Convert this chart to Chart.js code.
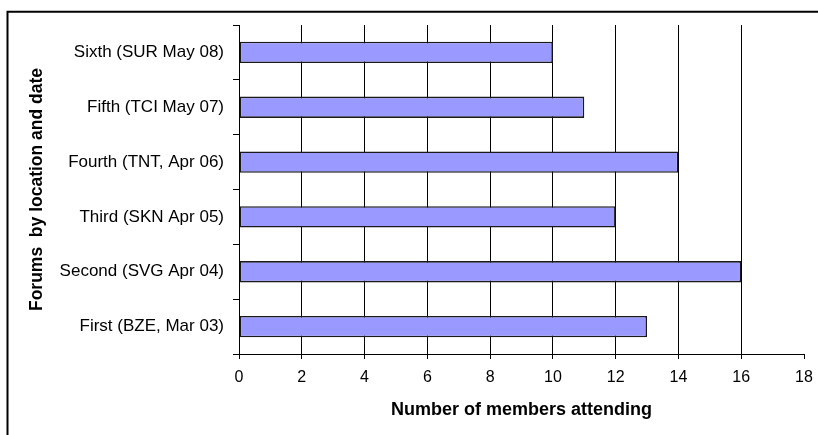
<!DOCTYPE html>
<html>
<head>
<meta charset="utf-8">
<script src="https://cdn.jsdelivr.net/npm/chart.js@4/dist/chart.umd.min.js"></script>
<style>
  html, body { margin: 0; padding: 0; background: #fff; }
  canvas { display: block; }
</style>
</head>
<body>
<canvas id="c" width="818" height="435"></canvas>
<script>
const categories = [
  'First (BZE, Mar 03)',
  'Second (SVG Apr 04)',
  'Third (SKN Apr 05)',
  'Fourth (TNT, Apr 06)',
  'Fifth (TCI May 07)',
  'Sixth (SUR May 08)'
];
const attendance = [13, 16, 12, 14, 11, 10];
const xMin = 0, xMax = 18, xStep = 2;
const xTitle = 'Number of members attending';
const yTitle = 'Forums  by location and date';

const FONT = '"Liberation Sans", Arial, sans-serif';

const frame = {
  id: 'frame',
  beforeDraw(chart) {
    const ctx = chart.ctx;
    ctx.save();
    ctx.fillStyle = '#fff';
    ctx.fillRect(0, 0, chart.width, chart.height);
    ctx.strokeStyle = '#000';
    ctx.lineWidth = 2;
    ctx.strokeRect(7.5, 11.75, 1000, 1000);
    ctx.restore();
  }
};

new Chart(document.getElementById('c'), {
  type: 'bar',
  data: {
    labels: categories,
    datasets: [{
      data: attendance,
      backgroundColor: '#9999FF',
      borderColor: '#1a1a1a',
      borderWidth: 1.6,
      borderSkipped: false,
      barPercentage: 0.39,
      categoryPercentage: 1
    }]
  },
  options: {
    indexAxis: 'y',
    responsive: false,
    animation: false,
    devicePixelRatio: 1,
    layout: { padding: { left: 0, right: 14, top: 25, bottom: 0 } },
    plugins: { legend: { display: false }, tooltip: { enabled: false } },
    scales: {
      x: {
        min: xMin, max: xMax,
        ticks: { stepSize: xStep, color: '#000', padding: 9, font: { family: FONT, size: 16 } },
        grid: {
          color: (c) => (c.tick && c.tick.value === xMax) ? 'rgba(0,0,0,0)' : '#000',
          tickColor: '#000',
          tickLength: 5,
          lineWidth: 1
        },
        border: { color: '#000', width: 1 },
        title: {
          display: true, text: xTitle, color: '#000',
          font: { family: FONT, size: 18, weight: 'bold' },
          padding: { top: 0, bottom: 14 }
        },
        afterFit(scale) {
          scale.height = 81;
          scale.paddingLeft = 0;
          scale.paddingRight = 0;
        }
      },
      y: {
        reverse: true,
        ticks: { color: '#000', padding: 9, font: { family: FONT, size: 17 } },
        grid: {
          drawOnChartArea: false,
          offset: true,
          color: '#000',
          tickColor: '#000',
          tickLength: 6
        },
        border: { color: '#000', width: 1 },
        title: {
          display: true, text: yTitle, color: '#000',
          font: { family: FONT, size: 17.5, weight: 'bold' },
          padding: { top: 27, bottom: 0 }
        },
        afterFit(scale) {
          scale.width = 239;
          scale.paddingTop = 0;
          scale.paddingBottom = 0;
        }
      }
    }
  },
  plugins: [frame]
});
</script>
</body>
</html>
